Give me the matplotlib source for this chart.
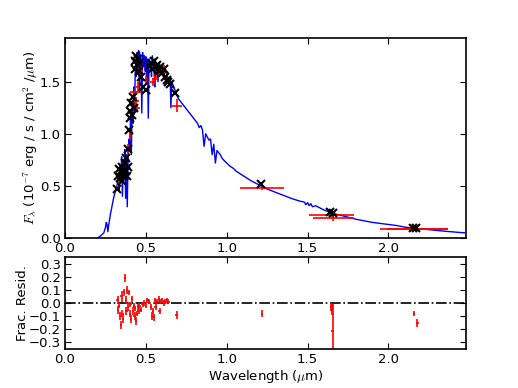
import numpy as np
import matplotlib
matplotlib.use('Agg')
import matplotlib.pyplot as plt

plt.rcParams['font.family'] = ['DejaVu Sans']
plt.rcParams['font.size'] = 9.5
plt.rcParams['mathtext.fontset'] = 'cm'
plt.rcParams['xtick.direction'] = 'in'
plt.rcParams['ytick.direction'] = 'in'
plt.rcParams['xtick.top'] = True
plt.rcParams['ytick.right'] = True
plt.rcParams['xtick.major.size'] = 4
plt.rcParams['ytick.major.size'] = 4
plt.rcParams['xtick.major.pad'] = 3
plt.rcParams['ytick.major.pad'] = 3
plt.rcParams['axes.linewidth'] = 1.2

# model spectrum (wavelength in micron, flux in 1e-7 erg/s/cm2/micron)
spec_wave = [0.20, 0.22, 0.24, 0.25, 0.255, 0.26, 0.265, 0.27, 0.28, 0.29, 0.30, 0.31,
             0.32, 0.325, 0.33, 0.335, 0.34, 0.345, 0.35, 0.355, 0.36, 0.365, 0.37, 0.375,
             0.38, 0.385, 0.39, 0.395, 0.40, 0.405, 0.41, 0.415, 0.42, 0.425, 0.43, 0.435,
             0.44, 0.445, 0.45, 0.455, 0.46, 0.465, 0.47, 0.475, 0.48, 0.485, 0.49, 0.495,
             0.50, 0.505, 0.51, 0.515, 0.52, 0.53, 0.535, 0.54, 0.55, 0.555, 0.56, 0.57,
             0.575, 0.58, 0.59, 0.60, 0.61, 0.62, 0.63, 0.64, 0.65, 0.655, 0.66, 0.67,
             0.68, 0.69, 0.70, 0.72, 0.74, 0.76, 0.78, 0.80, 0.82, 0.83, 0.84, 0.85,
             0.86, 0.87, 0.88, 0.89, 0.90, 0.91, 0.92, 0.93, 0.94, 0.95, 0.96, 0.97,
             0.98, 1.00, 1.02, 1.04, 1.06, 1.08, 1.10, 1.15, 1.20, 1.25, 1.30, 1.35,
             1.40, 1.45, 1.48, 1.49, 1.50, 1.51, 1.52, 1.53, 1.55, 1.60, 1.65, 1.70,
             1.75, 1.80, 1.85, 1.90, 1.95, 2.00, 2.05, 2.10, 2.15, 2.20, 2.25, 2.30,
             2.35, 2.40, 2.45, 2.50]
spec_flux = [0.00, 0.02, 0.05, 0.10, 0.15, 0.13, 0.06, 0.12, 0.22, 0.30, 0.38, 0.44,
             0.48, 0.55, 0.62, 0.45, 0.70, 0.55, 0.78, 0.40, 0.72, 0.60, 0.85, 0.38,
             0.80, 0.30, 0.75, 0.95, 0.85, 1.15, 0.80, 1.25, 1.10, 1.45, 1.20, 1.65,
             1.55, 1.78, 1.70, 1.80, 1.40, 1.76, 1.72, 1.20, 1.78, 1.65, 1.75, 1.60,
             1.74, 1.50, 1.70, 1.15, 1.72, 1.68, 1.55, 1.75, 1.62, 1.45, 1.70, 1.64,
             1.50, 1.68, 1.62, 1.66, 1.55, 1.60, 1.58, 1.50, 1.54, 1.25, 1.50, 1.46,
             1.42, 1.38, 1.34, 1.30, 1.26, 1.22, 1.18, 1.14, 1.10, 1.06, 1.08, 1.04,
             0.88, 1.00, 0.97, 0.94, 0.95, 0.80, 0.90, 0.72, 0.84, 0.82, 0.80, 0.77,
             0.75, 0.72, 0.69, 0.67, 0.64, 0.62, 0.60, 0.55, 0.51, 0.47, 0.44, 0.41,
             0.38, 0.355, 0.345, 0.32, 0.34, 0.31, 0.33, 0.30, 0.31, 0.27, 0.24, 0.22,
             0.20, 0.18, 0.165, 0.15, 0.14, 0.13, 0.12, 0.105, 0.095, 0.088, 0.08, 0.072,
             0.065, 0.058, 0.052, 0.047]

# synthetic photometry from the model (black crosses)
model_wave = [0.32, 0.33, 0.335, 0.34, 0.345, 0.35, 0.355, 0.36, 0.365, 0.37, 0.375, 0.38,
              0.385, 0.39, 0.39, 0.395, 0.40, 0.405, 0.41, 0.415, 0.42, 0.425, 0.43, 0.435,
              0.44, 0.445, 0.45, 0.455, 0.46, 0.47, 0.48, 0.50, 0.52, 0.53, 0.54, 0.55,
              0.56, 0.57, 0.58, 0.59, 0.60, 0.61, 0.62, 0.63, 0.64, 0.65, 0.68, 1.215,
              1.64, 1.66, 2.15, 2.17]
model_flux = [0.47, 0.60, 0.66, 0.58, 0.64, 0.55, 0.68, 0.62, 0.60, 0.72, 0.77, 0.64,
              0.60, 0.68, 0.85, 1.04, 1.15, 1.22, 1.30, 1.18, 1.35, 1.25, 1.62, 1.70,
              1.75, 1.66, 1.72, 1.60, 1.68, 1.55, 1.45, 1.42, 1.65, 1.68, 1.62, 1.70,
              1.65, 1.66, 1.60, 1.64, 1.58, 1.62, 1.55, 1.52, 1.50, 1.48, 1.39, 0.52,
              0.25, 0.24, 0.10, 0.10]

# observed photometry (red)
obs_wave = [0.335, 0.37, 0.39, 0.40, 0.42, 0.43, 0.44, 0.435, 0.445, 0.45, 0.47, 0.50,
            0.545, 0.555, 0.565, 0.58, 0.61, 0.69, 1.22, 1.65, 1.66, 2.16, 2.18]
obs_flux = [0.52, 0.62, 0.85, 1.00, 1.20, 1.28, 1.32, 1.40, 1.25, 1.45, 1.60, 1.52,
            1.50, 1.53, 1.58, 1.60, 1.62, 1.27, 0.48, 0.225, 0.19, 0.09, 0.082]
obs_werr = [0.005, 0.005, 0.005, 0.005, 0.01, 0.02, 0.02, 0.035, 0.02, 0.01, 0.01, 0.01,
            0.02, 0.02, 0.01, 0.01, 0.01, 0.035, 0.135, 0.14, 0.125, 0.21, 0.19]
obs_ferr = [0.03, 0.04, 0.05, 0.06, 0.04, 0.03, 0.03, 0.03, 0.03, 0.05, 0.05, 0.04,
            0.04, 0.04, 0.06, 0.05, 0.04, 0.06, 0.02, 0.03, 0.03, 0.01, 0.01]

# fractional residuals
res_wave = [0.325, 0.33, 0.335, 0.34, 0.345, 0.35, 0.355, 0.36, 0.365, 0.37, 0.375, 0.38,
            0.385, 0.39, 0.395, 0.40, 0.405, 0.41, 0.415, 0.42, 0.425, 0.43, 0.435, 0.44,
            0.445, 0.45, 0.455, 0.46, 0.47, 0.48, 0.49, 0.50, 0.51, 0.52, 0.53, 0.54,
            0.545, 0.55, 0.555, 0.56, 0.57, 0.58, 0.585, 0.59, 0.60, 0.61, 0.62, 0.63,
            0.64, 0.69, 1.22, 1.645, 1.65, 1.655, 2.16, 2.18]
res_val = [0.02, -0.05, -0.02, -0.10, -0.17, 0.05, -0.08, -0.12, 0.08, 0.19, 0.02, -0.06,
           0.10, -0.03, 0.08, -0.08, -0.01, -0.12, 0.03, -0.06, -0.02, -0.10, -0.04, -0.14,
           -0.08, -0.03, -0.06, -0.02, -0.05, -0.01, 0.00, -0.02, 0.02, 0.01, -0.03, -0.10,
           -0.06, -0.11, 0.02, -0.03, 0.01, 0.03, -0.06, 0.01, 0.02, 0.00, 0.01, 0.02,
           0.01, -0.09, -0.08, -0.03, -0.05, -0.21, -0.08, -0.15]
res_err = [0.03, 0.03, 0.02, 0.03, 0.03, 0.04, 0.03, 0.03, 0.03, 0.03, 0.03, 0.03,
           0.03, 0.03, 0.02, 0.03, 0.02, 0.03, 0.02, 0.03, 0.02, 0.03, 0.02, 0.03,
           0.02, 0.02, 0.02, 0.02, 0.02, 0.02, 0.02, 0.02, 0.02, 0.02, 0.02, 0.03,
           0.02, 0.03, 0.02, 0.02, 0.02, 0.02, 0.02, 0.02, 0.02, 0.02, 0.02, 0.02,
           0.02, 0.03, 0.03, 0.03, 0.04, 0.20, 0.02, 0.03]

fig = plt.figure(figsize=(5.18, 3.88), dpi=100)
ax1 = fig.add_axes([0.1255, 0.3866, 0.7741, 0.5154])
ax2 = fig.add_axes([0.1255, 0.1005, 0.7741, 0.2371])

# Top panel: SED
ax1.plot(spec_wave, spec_flux, color='blue', lw=1.0)
ax1.errorbar(obs_wave, obs_flux, xerr=obs_werr, yerr=obs_ferr, fmt='none',
             ecolor='red', elinewidth=1.2, capsize=0)
ax1.plot(model_wave, model_flux, 'kx', ms=6, mew=1.5)
ax1.set_xlim(0, 2.48)
ax1.set_ylim(0, 1.92)
ax1.set_yticks([0.0, 0.5, 1.0, 1.5])
ax1.set_xticks([0.0, 0.5, 1.0, 1.5, 2.0])
ax1.set_ylabel(r'$F_\lambda$ (10$^{-7}$ erg / s / cm$^2$ /$\mu$m)', labelpad=0)

# Bottom panel: residuals
ax2.axhline(0, color='black', ls='-.', lw=1.2)
ax2.errorbar(res_wave, res_val, yerr=res_err, xerr=0.007, fmt='none',
             ecolor='red', elinewidth=1.2, capsize=0)
ax2.set_xlim(0, 2.48)
ax2.set_ylim(-0.35, 0.35)
ax2.set_yticks([-0.3, -0.2, -0.1, 0.0, 0.1, 0.2, 0.3])
ax2.set_xticks([0.0, 0.5, 1.0, 1.5, 2.0])
ax2.set_ylabel('Frac. Resid.', labelpad=0)
ax2.set_xlabel(r'Wavelength ($\mu$m)', labelpad=1)

plt.savefig('out.png', dpi=100)
